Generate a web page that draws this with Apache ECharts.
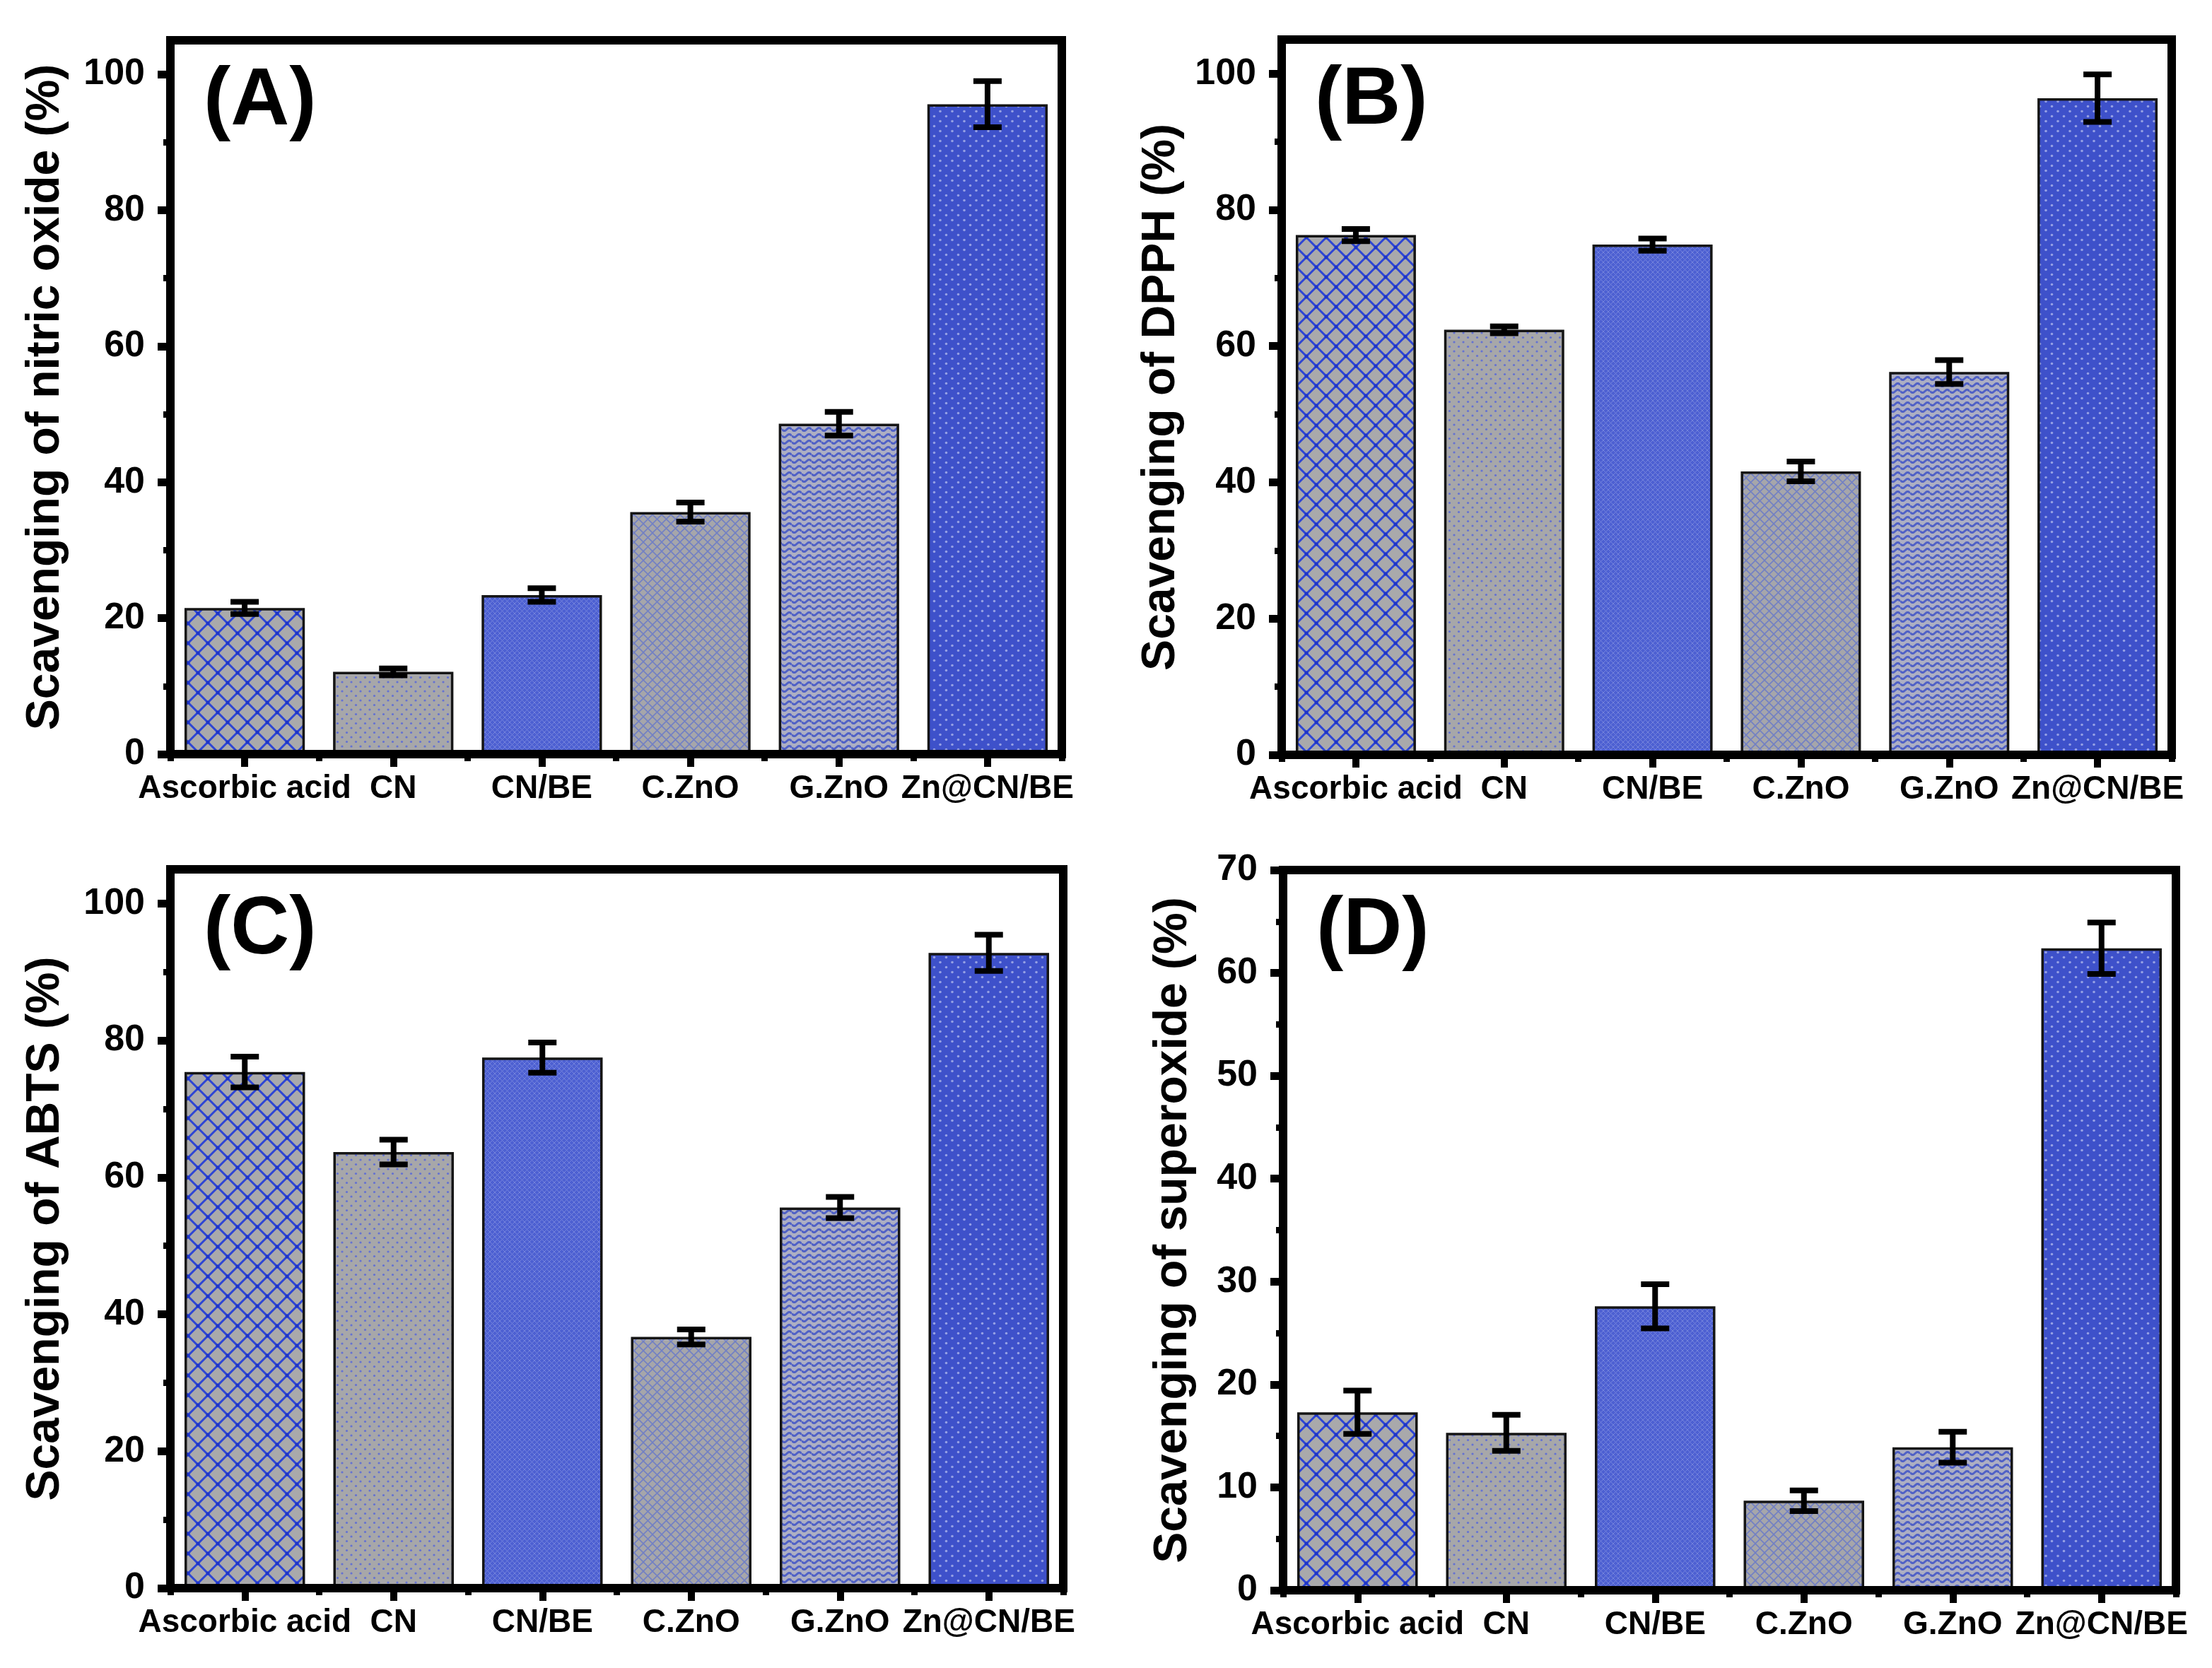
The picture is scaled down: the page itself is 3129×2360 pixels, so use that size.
<!DOCTYPE html>
<html><head><meta charset="utf-8">
<script src="https://cdn.jsdelivr.net/npm/echarts@6/dist/echarts.min.js"></script>
<style>html,body{margin:0;padding:0;background:#fff;} #c{width:3129px;height:2360px;}</style>
</head><body><div id="c"></div>
<script>
// ---------- data ----------
const categories = ['Ascorbic acid', 'CN', 'CN/BE', 'C.ZnO', 'G.ZnO', 'Zn@CN/BE'];
const nitricValues = [21.5, 12.1, 23.4, 35.6, 48.6, 95.6];
const nitricErrors = [0.9, 0.5, 1.0, 1.4, 1.75, 3.4];
const dpphValues = [76.3, 62.4, 74.9, 41.6, 56.2, 96.4];
const dpphErrors = [0.9, 0.5, 0.9, 1.45, 1.75, 3.5];
const abtsValues = [75.4, 63.7, 77.5, 36.7, 55.6, 92.8];
const abtsErrors = [2.25, 1.8, 2.2, 1.1, 1.55, 2.65];
const superoxideValues = [17.3, 15.3, 27.6, 8.7, 13.9, 62.4];
const superoxideErrors = [2.1, 1.75, 2.15, 1.0, 1.5, 2.5];
const ticks100 = [0, 20, 40, 60, 80, 100];
const minor100 = [10, 30, 50, 70, 90];
const ticks70 = [0, 10, 20, 30, 40, 50, 60, 70];
const minor70 = [5, 15, 25, 35, 45, 55, 65];
const panelLetters = ['(A)', '(B)', '(C)', '(D)'];
const yNames = ['Scavenging of nitric oxide (%)', 'Scavenging of DPPH (%)', 'Scavenging of ABTS (%)', 'Scavenging of superoxide (%)'];

// ---------- patterns ----------
function makeTile(w, h, draw) {
  const c = document.createElement('canvas');
  c.width = w; c.height = h;
  const g = c.getContext('2d');
  draw(g, w, h);
  return c;
}
function cross(g, w, h) {
  g.beginPath();
  for (let k = -1; k <= 1; k++) {
    g.moveTo(k * w - 1, -1); g.lineTo(k * w + w + 1, h + 1);
    g.moveTo(k * w + w + 1, -1); g.lineTo(k * w - 1, h + 1);
  }
  g.stroke();
}
function dots(g, pts, r) {
  pts.forEach(p => { g.beginPath(); g.arc(p[0], p[1], r, 0, Math.PI * 2); g.fill(); });
}
const tileAsc = makeTile(28, 28, (g, w, h) => {
  g.fillStyle = '#a9a9ab'; g.fillRect(0, 0, w, h);
  g.strokeStyle = '#2d45d4'; g.lineWidth = 3; cross(g, w, h);
  g.fillStyle = '#1d34c8'; dots(g, [[0, 0], [w, 0], [0, h], [w, h], [w / 2, h / 2]], 2.5);
});
const tileCN = makeTile(13, 13, (g, w, h) => {
  g.fillStyle = '#a7a7a9'; g.fillRect(0, 0, w, h);
  g.fillStyle = '#6472d2'; dots(g, [[3, 3], [9.5, 9.5]], 1.6);
});
const tileCNBE = makeTile(7, 7, (g, w, h) => {
  g.fillStyle = '#4d60d2'; g.fillRect(0, 0, w, h);
  g.strokeStyle = '#7483dc'; g.lineWidth = 1; cross(g, w, h);
});
const tileCZnO = makeTile(13, 13, (g, w, h) => {
  g.fillStyle = '#a6a6aa'; g.fillRect(0, 0, w, h);
  g.strokeStyle = '#7280c4'; g.lineWidth = 1.6; cross(g, w, h);
});
const tileGZnO = makeTile(14, 9, (g, w, h) => {
  g.fillStyle = '#adafc3'; g.fillRect(0, 0, w, h);
  g.strokeStyle = '#5061c6'; g.lineWidth = 3;
  g.beginPath();
  for (let x = 0; x <= w; x += 0.5) {
    const y = h / 2 + 2 * Math.sin(x / w * Math.PI * 2);
    if (x === 0) g.moveTo(x, y); else g.lineTo(x, y);
  }
  g.stroke();
});
const tileZn = makeTile(17, 14, (g, w, h) => {
  g.fillStyle = '#3e51ca'; g.fillRect(0, 0, w, h);
  g.fillStyle = '#95a0e4'; dots(g, [[4, 3.5], [12.5, 10.5]], 1.8);
});
const fills = [tileAsc, tileCN, tileCNBE, tileCZnO, tileGZnO, tileZn].map(c => ({ image: c, repeat: 'repeat' }));

// ---------- layout ----------
const F = 'Liberation Sans, Arial, sans-serif';
const panels = [
  { values: nitricValues, errors: nitricErrors, grid: { left: 241, top: 57, width: 1261, height: 1010 }, max: 105, step: 20, ticks: ticks100, minor: minor100, nameGap: 143 },
  { values: dpphValues, errors: dpphErrors, grid: { left: 1813, top: 56, width: 1259, height: 1012 }, max: 105, step: 20, ticks: ticks100, minor: minor100, nameGap: 137 },
  { values: abtsValues, errors: abtsErrors, grid: { left: 241, top: 1230, width: 1263, height: 1017 }, max: 105, step: 20, ticks: ticks100, minor: minor100, nameGap: 143 },
  { values: superoxideValues, errors: superoxideErrors, grid: { left: 1815, top: 1231, width: 1263, height: 1019 }, max: 70, step: 10, ticks: ticks70, minor: minor70, nameGap: 122 }
];

const option = { backgroundColor: '#fff', animation: false, grid: [], xAxis: [], yAxis: [], series: [], title: [] };
panels.forEach((p, i) => {
  option.grid.push(Object.assign({ show: true, borderColor: '#000', borderWidth: 12, backgroundColor: 'transparent', containLabel: false }, p.grid));
  option.title.push({ text: panelLetters[i], left: p.grid.left + 47, top: p.grid.top + 30, padding: 0,
    textStyle: { fontSize: 115, fontWeight: 'bold', color: '#000', fontFamily: F } });
  option.xAxis.push({
    gridIndex: i, type: 'category', data: categories, position: 'bottom', z: 10,
    axisLine: { show: true, lineStyle: { color: '#000', width: 12 } },
    axisTick: { show: true, alignWithLabel: true, interval: 0, length: 18, lineStyle: { color: '#000', width: 10 } },
    axisLabel: { interval: 0, margin: 26, fontSize: 46, fontWeight: 'bold', color: '#000', fontFamily: F },
    splitLine: { show: false }
  });
  option.xAxis.push({
    gridIndex: i, type: 'category', data: categories, position: 'bottom', z: 10,
    axisLine: { show: false },
    axisTick: { show: true, alignWithLabel: false, interval: 0, length: 10, lineStyle: { color: '#000', width: 9 } },
    axisLabel: { show: false }, splitLine: { show: false }
  });
  option.yAxis.push({
    gridIndex: i, type: 'value', position: 'left', min: 0, max: p.max, interval: p.step, z: 10,
    axisLine: { show: true, lineStyle: { color: '#000', width: 12 } },
    axisTick: { show: true, customValues: p.ticks, length: 18, lineStyle: { color: '#000', width: 11 } },
    axisLabel: { customValues: p.ticks, margin: 36, fontSize: 52, fontWeight: 'bold', color: '#000', fontFamily: F },
    splitLine: { show: false },
    name: yNames[i], nameLocation: 'middle', nameRotate: 90, nameGap: p.nameGap,
    nameTextStyle: { fontSize: 66, fontWeight: 'bold', color: '#000', fontFamily: F }
  });
  option.yAxis.push({
    gridIndex: i, type: 'value', position: 'left', offset: 0, min: 0, max: p.max, interval: p.step, z: 10,
    axisLine: { show: false },
    axisTick: { show: true, customValues: p.minor, length: 10, lineStyle: { color: '#000', width: 9 } },
    axisLabel: { show: false }, splitLine: { show: false }
  });
  option.series.push({
    type: 'bar', xAxisIndex: 2 * i, yAxisIndex: 2 * i, barWidth: '81%', z: 2,
    data: p.values.map((v, j) => ({ value: v, itemStyle: { color: fills[j], borderColor: '#151515', borderWidth: 3.5 } }))
  });
  option.series.push({
    type: 'custom', xAxisIndex: 2 * i, yAxisIndex: 2 * i, z: 5,
    data: p.values.map((v, j) => [j, v, p.errors[j]]),
    encode: { x: 0, y: 1 },
    renderItem: function (params, api) {
      const x = api.value(0), y = api.value(1), e = api.value(2);
      const hi = api.coord([x, y + e]);
      const lo = api.coord([x, y - e]);
      const hw = 20;
      const st = { stroke: '#000', lineWidth: 8 };
      return { type: 'group', children: [
        { type: 'line', shape: { x1: hi[0], y1: hi[1], x2: lo[0], y2: lo[1] }, style: st },
        { type: 'line', shape: { x1: hi[0] - hw, y1: hi[1], x2: hi[0] + hw, y2: hi[1] }, style: st },
        { type: 'line', shape: { x1: lo[0] - hw, y1: lo[1], x2: lo[0] + hw, y2: lo[1] }, style: st }
      ] };
    }
  });
});

const chart = echarts.init(document.getElementById('c'), null, { renderer: 'canvas' });
chart.setOption(option);
</script>
</body></html>
